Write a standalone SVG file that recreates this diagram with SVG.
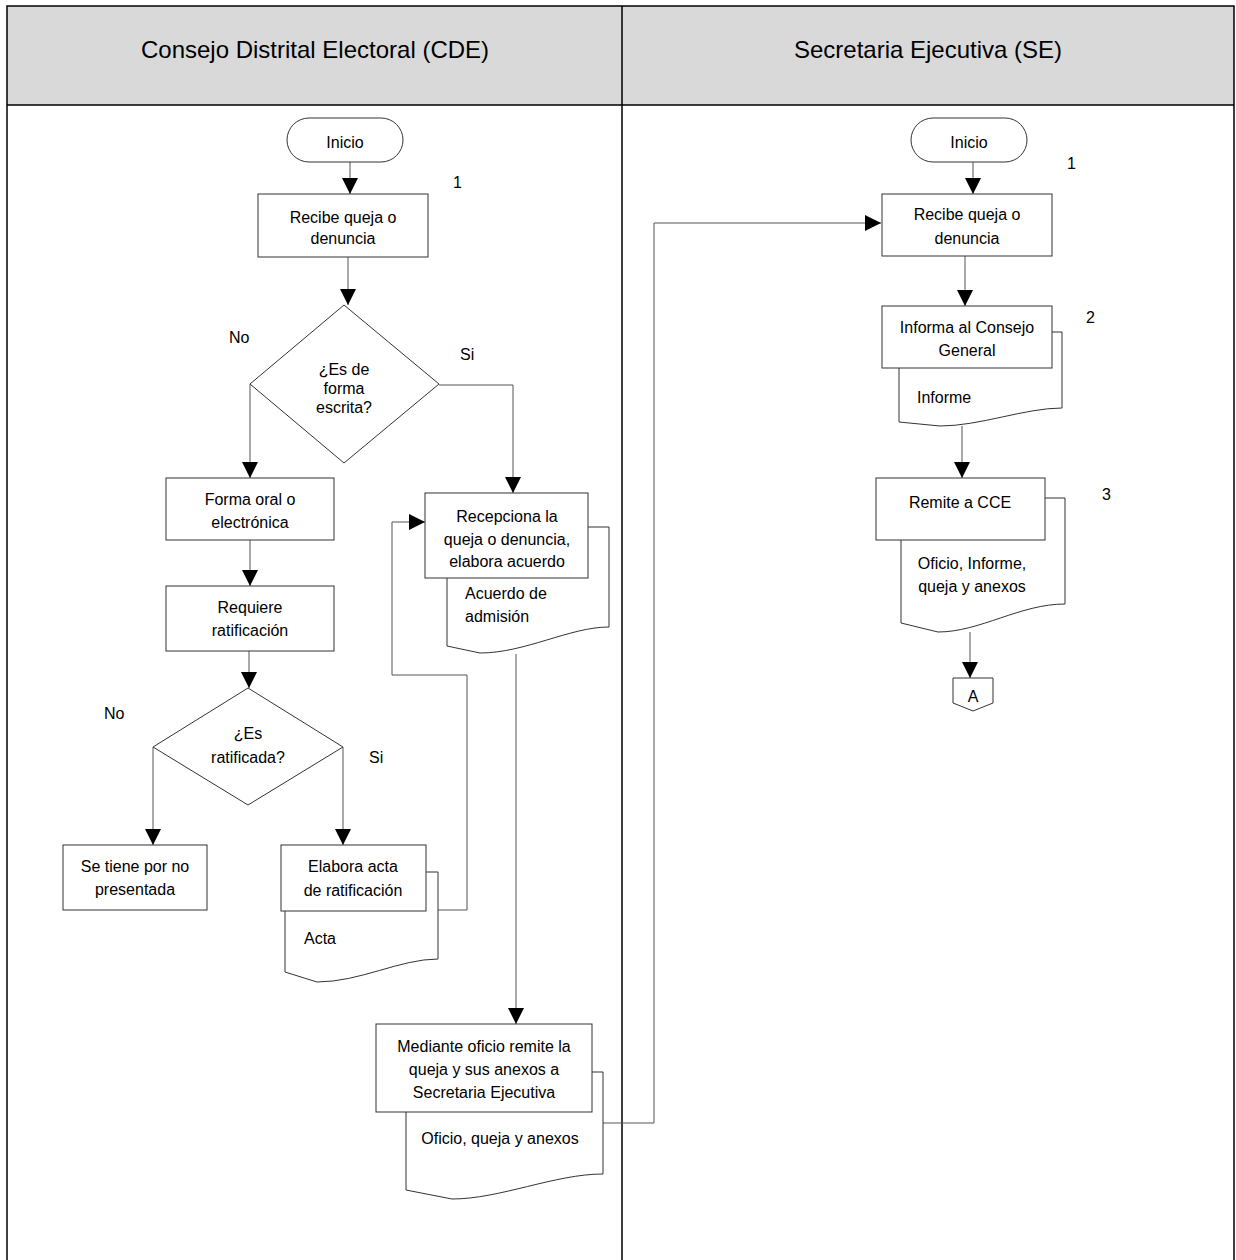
<svg xmlns="http://www.w3.org/2000/svg" width="1236" height="1260" viewBox="0 0 1236 1260">
<style>
text{font-family:"Liberation Sans",Arial,sans-serif;fill:#000}
.hd{font-size:24px;text-anchor:middle}
.t{font-size:16px;text-anchor:middle}
.tl{font-size:16px}
.lb{font-size:16px}
.sh{fill:#fff;stroke:#333;stroke-width:1}
.c{fill:none;stroke:#555;stroke-width:1}
.a{marker-end:url(#ah)}
.grid{fill:none;stroke:#000;stroke-width:1.5}
</style>
<defs>
<marker id="ah" markerUnits="userSpaceOnUse" markerWidth="18" markerHeight="18" viewBox="0 0 18 18" refX="16" refY="9" orient="auto">
<path d="M0,1 L16,9 L0,17 Z" fill="#000"/>
</marker>
</defs>
<rect width="1236" height="1260" fill="#fff"/>
<g id="lanes">
<rect x="7" y="6" width="1227" height="99" fill="#d9d9d9"/>
<path class="grid" d="M7,1262 V6 H1234 V1262 M622,6 V1262 M7,105 H1234"/>
<text class="hd" x="315" y="58">Consejo Distrital Electoral (CDE)</text>
<text class="hd" x="928" y="58">Secretaria Ejecutiva (SE)</text>
</g>
<g id="connectors">
<path class="c a" d="M350,162 V194"/>
<path class="c a" d="M348,257 V305"/>
<path class="c a" d="M250,384 V478"/>
<path class="c a" d="M439,385 H513 V493"/>
<path class="c a" d="M250,540 V586"/>
<path class="c a" d="M249,651 V688"/>
<path class="c a" d="M153,747 V845"/>
<path class="c a" d="M343,747 V845"/>
<path class="c a" d="M438,910 H467 V675 H392 V522 H425"/>
<path class="c a" d="M516,654 V1024"/>
<path class="c a" d="M603,1123 H654 V223 H881"/>
<path class="c a" d="M973,162 V194"/>
<path class="c a" d="M965,256 V306"/>
<path class="c a" d="M962,426 V478"/>
<path class="c a" d="M970,632 V678"/>
</g>
<g id="inicio1">
<rect class="sh" x="287" y="118" width="116" height="44" rx="22"/>
<text class="t" x="345" y="148">Inicio</text>
</g>
<text class="lb" x="453" y="188">1</text>
<g id="recibe1">
<rect class="sh" x="258" y="194" width="170" height="63"/>
<text class="t" x="343" y="223">Recibe queja o</text>
<text class="t" x="343" y="244">denuncia</text>
</g>
<g id="decision1">
<polygon class="sh" points="344,305 439,384 344,463 250,384"/>
<text class="t" x="344" y="375">¿Es de</text>
<text class="t" x="344" y="394">forma</text>
<text class="t" x="344" y="413">escrita?</text>
</g>
<text class="lb" x="229" y="343">No</text>
<text class="lb" x="460" y="360">Si</text>
<g id="formaoral">
<rect class="sh" x="166" y="478" width="168" height="62"/>
<text class="t" x="250" y="505">Forma oral o</text>
<text class="t" x="250" y="528">electrónica</text>
</g>
<g id="requiere">
<rect class="sh" x="166" y="586" width="168" height="65"/>
<text class="t" x="250" y="613">Requiere</text>
<text class="t" x="250" y="636">ratificación</text>
</g>
<g id="decision2">
<polygon class="sh" points="248,688 343,747 248,805 153,747"/>
<text class="t" x="248" y="739">¿Es</text>
<text class="t" x="248" y="763">ratificada?</text>
</g>
<text class="lb" x="104" y="719">No</text>
<text class="lb" x="369" y="763">Si</text>
<g id="notpresent">
<rect class="sh" x="63" y="845" width="144" height="65"/>
<text class="t" x="135" y="872">Se tiene por no</text>
<text class="t" x="135" y="895">presentada</text>
</g>
<g id="elaboraacta">
<path class="sh" d="M285,872 H438 V959 C400,959 360,982 317,982 L285,972 Z"/>
<rect class="sh" x="281" y="845" width="145" height="66"/>
<text class="t" x="353" y="872">Elabora acta</text>
<text class="t" x="353" y="896">de ratificación</text>
<text class="tl" x="304" y="944">Acta</text>
</g>
<g id="recepciona">
<path class="sh" d="M447,527 H609 V627 C570,627 525,653 480,653 L447,646 Z"/>
<rect class="sh" x="425" y="493" width="163" height="85"/>
<text class="t" x="507" y="522">Recepciona la</text>
<text class="t" x="507" y="545">queja o denuncia,</text>
<text class="t" x="507" y="567">elabora acuerdo</text>
<text class="tl" x="465" y="599">Acuerdo de</text>
<text class="tl" x="465" y="622">admisión</text>
</g>
<g id="mediante">
<path class="sh" d="M406,1072 H603 V1174 C555,1174 500,1199 452,1199 L406,1190 Z"/>
<rect class="sh" x="376" y="1024" width="216" height="88"/>
<text class="t" x="484" y="1052">Mediante oficio remite la</text>
<text class="t" x="484" y="1075">queja y sus anexos a</text>
<text class="t" x="484" y="1098">Secretaria Ejecutiva</text>
<text class="t" x="500" y="1144">Oficio, queja y anexos</text>
</g>
<g id="inicio2">
<rect class="sh" x="911" y="118" width="116" height="44" rx="22"/>
<text class="t" x="969" y="148">Inicio</text>
</g>
<text class="lb" x="1067" y="169">1</text>
<g id="recibe2">
<rect class="sh" x="882" y="194" width="170" height="62"/>
<text class="t" x="967" y="220">Recibe queja o</text>
<text class="t" x="967" y="244">denuncia</text>
</g>
<g id="informa">
<path class="sh" d="M899,332 H1062 V408 C1025,408 980,426 940,426 L899,422 Z"/>
<rect class="sh" x="882" y="306" width="170" height="62"/>
<text class="t" x="967" y="333">Informa al Consejo</text>
<text class="t" x="967" y="356">General</text>
<text class="tl" x="917" y="403">Informe</text>
</g>
<text class="lb" x="1086" y="323">2</text>
<g id="remite">
<path class="sh" d="M901,498 H1065 V604 C1020,604 980,632 938,632 L901,623 Z"/>
<rect class="sh" x="876" y="478" width="169" height="62"/>
<text class="t" x="960" y="508">Remite a CCE</text>
<text class="t" x="972" y="569">Oficio, Informe,</text>
<text class="t" x="972" y="592">queja y anexos</text>
</g>
<text class="lb" x="1102" y="500">3</text>
<g id="offpageA">
<polygon class="sh" points="953,678 993,678 993,703 973,711 953,703"/>
<text class="t" x="973" y="702">A</text>
</g>
</svg>
